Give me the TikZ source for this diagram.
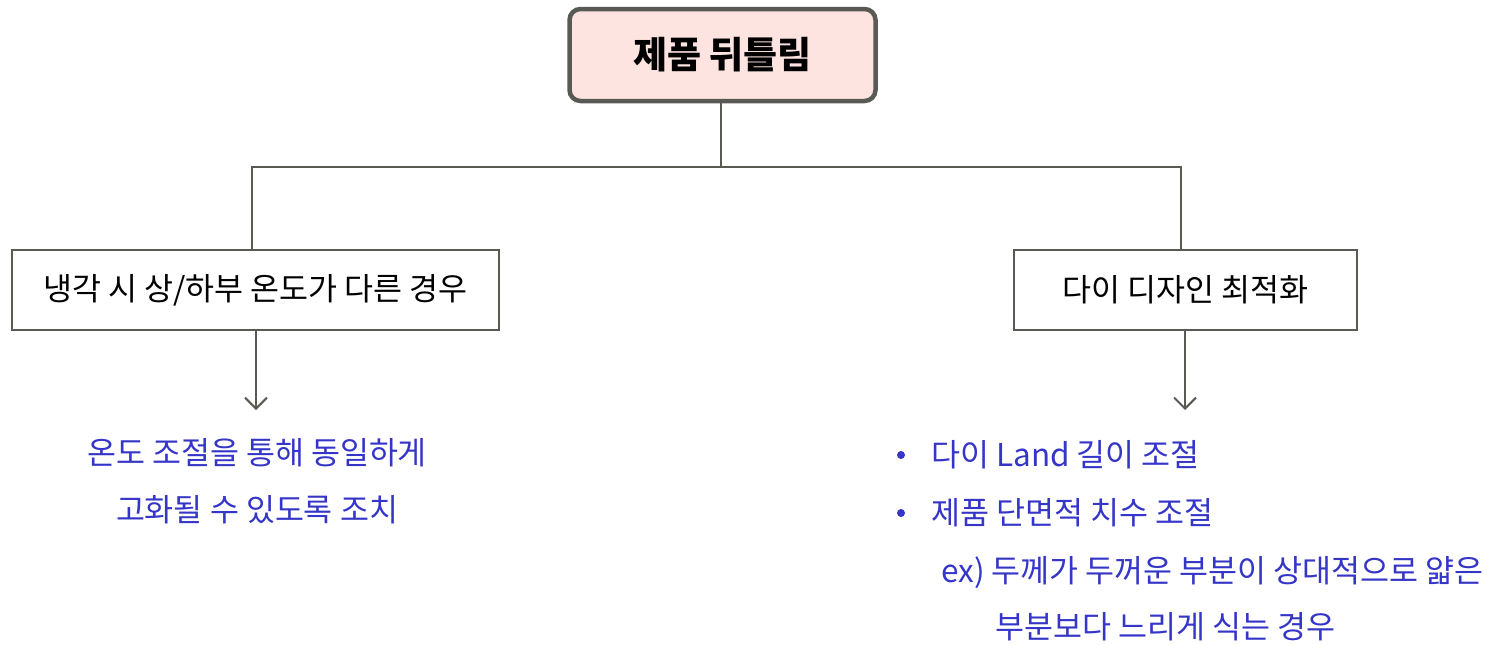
\documentclass[tikz,border=0pt]{standalone}
\usepackage{fontspec}
\setmainfont{Noto Sans CJK KR}
\usetikzlibrary{arrows.meta}
\definecolor{edge}{HTML}{5A5A55}
\definecolor{pinkfill}{HTML}{FDE4E0}
\definecolor{txtblue}{HTML}{3535C8}
\tikzset{
  topbox/.style={draw=edge, line width=4.5pt, fill=pinkfill, rounded corners=11pt, minimum width=306pt, minimum height=92pt, inner sep=0pt, font=\fontsize{37}{44}\selectfont\bfseries},
  subbox/.style={draw=edge, line width=1.3pt, fill=white, minimum height=80pt, inner sep=0pt, font=\fontsize{31.5}{38}\selectfont},
  link/.style={draw=edge, line width=1.6pt},
  arr/.style={draw=edge, line width=2pt, -{Straight Barb[length=11pt, width=22pt, line width=2pt]}},
  bluetxt/.style={text=txtblue, font=\fontsize{31.5}{38}\selectfont, inner sep=0pt, anchor=base west},
  bluec/.style={text=txtblue, font=\fontsize{31.5}{38}\selectfont, inner sep=0pt, anchor=base},
  bulletdot/.style={circle, fill=txtblue, minimum size=8pt, inner sep=0pt},
}
\begin{document}
\begin{tikzpicture}[x=1pt,y=-1pt]
\useasboundingbox (0,0) rectangle (1499,645);
\node[topbox] (top) at (722.5,55) {제품 뒤틀림};
\node[subbox, minimum width=487pt] (left) at (255.5,290) {냉각 시 상/하부 온도가 다른 경우};
\node[subbox, minimum width=343pt] (right) at (1185.5,290) {다이 디자인 최적화};
\coordinate (j) at (721,167);
\draw[link] (top.south -| j) -- (j);
\draw[link] (left.north -| 252,0) |- (j) -| (right.north -| 1181,0);
\coordinate (la) at (256,410);
\coordinate (ra) at (1185,410);
\draw[arr] (left.south -| la) -- (la);
\draw[arr] (right.south -| ra) -- (ra);
\node[bluec] (l1) at (257,464) {온도 조절을 통해 동일하게};
\node[bluec] (l2) at (257,521) {고화될 수 있도록 조치};
\node[bulletdot] (b1) at (901,455) {};
\node[bluetxt] (r1) at (931,466) {다이 Land 길이 조절};
\node[bulletdot] (b2) at (901,513) {};
\node[bluetxt] (r2) at (931,524) {제품 단면적 치수 조절};
\node[bluetxt] (r3) at (941,582) {ex) 두께가 두꺼운 부분이 상대적으로 얇은};
\node[bluetxt] (r4) at (995,638) {부분보다 느리게 식는 경우};
\end{tikzpicture}
\end{document}
